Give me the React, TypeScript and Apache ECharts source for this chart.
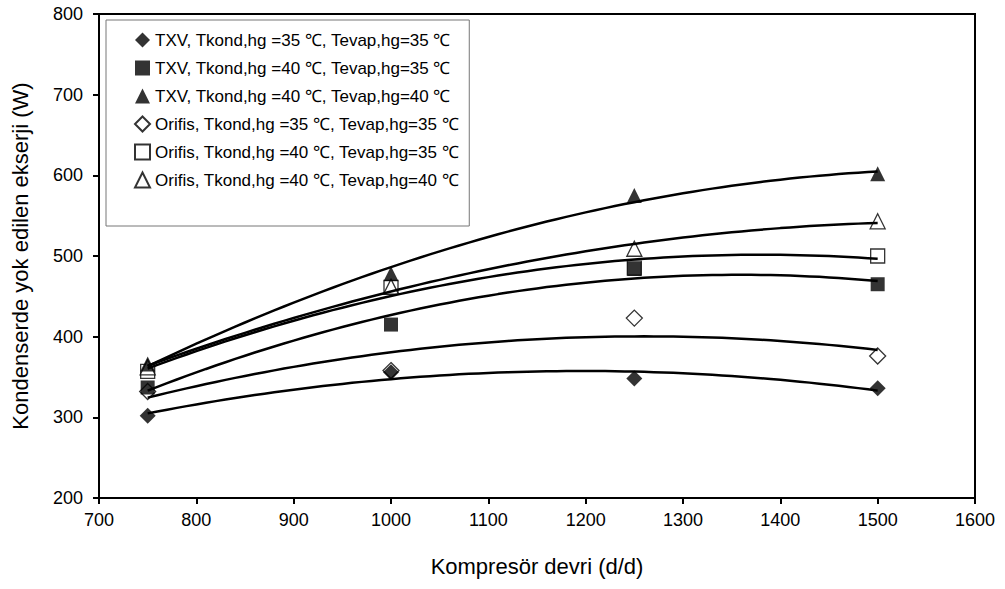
import React, { useEffect, useRef } from "react";
import * as echarts from "echarts";

const speeds = [750, 1000, 1250, 1500];
const txv3535 = [302, 356, 348, 336];
const txv4035 = [337, 415, 484, 465];
const txv4040 = [366, 478, 575, 602];
const orf3535 = [332, 358, 423, 376];
const orf4035 = [357, 461, 485, 500];
const orf4040 = [362, 462, 509, 543];

const names = [
  "TXV, Tkond,hg =35 \u2103, Tevap,hg=35 \u2103",
  "TXV, Tkond,hg =40 \u2103, Tevap,hg=35 \u2103",
  "TXV, Tkond,hg =40 \u2103, Tevap,hg=40 \u2103",
  "Orifis, Tkond,hg =35 \u2103, Tevap,hg=35 \u2103",
  "Orifis, Tkond,hg =40 \u2103, Tevap,hg=35 \u2103",
  "Orifis, Tkond,hg =40 \u2103, Tevap,hg=40 \u2103",
];
const symbols = ["diamond", "rect", "triangle", "diamond", "rect", "triangle"];
const filled = [true, true, true, false, false, false];
const allValues = [txv3535, txv4035, txv4040, orf3535, orf4035, orf4040];

const FONT = "'Liberation Sans', Arial, sans-serif";

// quadratic least-squares trendline (like Excel polynomial order 2)
function quadFit(xs: number[], ys: number[]) {
  const m = xs.reduce((a, b) => a + b, 0) / xs.length;
  const s = 250;
  const S = [0, 0, 0, 0, 0];
  const T = [0, 0, 0];
  xs.forEach((x, i) => {
    const u = (x - m) / s;
    for (let k = 0; k < 5; k++) S[k] += Math.pow(u, k);
    for (let k = 0; k < 3; k++) T[k] += ys[i] * Math.pow(u, k);
  });
  const A = [
    [S[0], S[1], S[2], T[0]],
    [S[1], S[2], S[3], T[1]],
    [S[2], S[3], S[4], T[2]],
  ];
  for (let c = 0; c < 3; c++) {
    let p = c;
    for (let r = c + 1; r < 3; r++) if (Math.abs(A[r][c]) > Math.abs(A[p][c])) p = r;
    [A[c], A[p]] = [A[p], A[c]];
    for (let r = 0; r < 3; r++) {
      if (r === c) continue;
      const f = A[r][c] / A[c][c];
      for (let k = c; k < 4; k++) A[r][k] -= f * A[c][k];
    }
  }
  const coef = [A[0][3] / A[0][0], A[1][3] / A[1][1], A[2][3] / A[2][2]];
  return (x: number) => {
    const u = (x - m) / s;
    return coef[0] + coef[1] * u + coef[2] * u * u;
  };
}

function fitCurve(ys: number[]) {
  const f = quadFit(speeds, ys);
  const pts: number[][] = [];
  const x0 = speeds[0];
  const x1 = speeds[speeds.length - 1];
  const n = 75;
  for (let i = 0; i <= n; i++) {
    const x = x0 + ((x1 - x0) * i) / n;
    pts.push([x, f(x)]);
  }
  return pts;
}

export default function App() {
  const ref = useRef<HTMLDivElement>(null);
  useEffect(() => {
    if (!ref.current) return;
    const chart = echarts.init(ref.current, undefined, { renderer: "svg" });
    const scatter = allValues.map((vals, i) => ({
      name: names[i],
      type: "scatter",
      symbol: symbols[i],
      symbolSize: symbols[i] === "rect" ? 14 : symbols[i] === "diamond" ? 16 : 15,
      data: speeds.map((x, j) => [x, vals[j]]),
      itemStyle: filled[i]
        ? { color: "#000", borderColor: "#000", borderWidth: 0 }
        : { color: "#fff", borderColor: "#000", borderWidth: 1.3 },
      z: 3,
    }));
    // open (Orifis) markers sit below the filled (TXV) markers
    const orderedScatter = [scatter[3], scatter[4], scatter[5], scatter[0], scatter[1], scatter[2]];
    const lines = allValues.map((vals, i) => ({
      name: "fit" + i,
      type: "line",
      data: fitCurve(vals),
      showSymbol: false,
      symbol: "none",
      smooth: false,
      lineStyle: { color: "#000", width: 2.5 },
      z: 4,
      silent: true,
    }));
    chart.setOption({
      animation: false,
      backgroundColor: "#fff",
      textStyle: { fontFamily: FONT },
      grid: {
        left: 99,
        right: 30,
        top: 14,
        bottom: 91,
        show: true,
        borderColor: "#000",
        borderWidth: 2,
      },
      legend: {
        data: names,
        orient: "vertical",
        left: 106,
        top: 20,
        padding: [11, 10, 37, 28],
        itemGap: 10,
        itemWidth: 15,
        itemHeight: 15,
        backgroundColor: "#fff",
        borderColor: "#777",
        borderWidth: 1,
        borderRadius: 0,
        textStyle: { fontFamily: FONT, fontSize: 17, lineHeight: 18, color: "#000" },
      },
      xAxis: {
        type: "value",
        min: 700,
        max: 1600,
        interval: 100,
        name: "Kompresör devri (d/d)",
        nameLocation: "middle",
        nameGap: 57,
        nameTextStyle: { fontFamily: FONT, fontSize: 22, color: "#000" },
        axisLine: { show: true, lineStyle: { color: "#000", width: 2 } },
        axisTick: { show: true, inside: false, length: 6, lineStyle: { color: "#000", width: 2 } },
        axisLabel: {
          fontFamily: FONT,
          fontSize: 18,
          color: "#000",
          margin: 13,
          formatter: (v: number) => String(v),
        },
        splitLine: { show: false },
      },
      yAxis: {
        type: "value",
        min: 200,
        max: 800,
        interval: 100,
        name: "Kondenserde yok edilen ekserji (W)",
        nameLocation: "middle",
        nameGap: 68,
        nameTextStyle: { fontFamily: FONT, fontSize: 22, color: "#000" },
        axisLine: { show: true, lineStyle: { color: "#000", width: 2 } },
        axisTick: { show: true, inside: false, length: 6, lineStyle: { color: "#000", width: 2 } },
        axisLabel: {
          fontFamily: FONT,
          fontSize: 18,
          color: "#000",
          margin: 16,
          formatter: (v: number) => String(v),
        },
        splitLine: { show: false },
      },
      series: [...orderedScatter, ...lines],
    });
    return () => chart.dispose();
  }, []);
  return (
    <div
      ref={ref}
      style={{ position: "fixed", left: 0, top: 0, width: 1005, height: 589 }}
    />
  );
}
